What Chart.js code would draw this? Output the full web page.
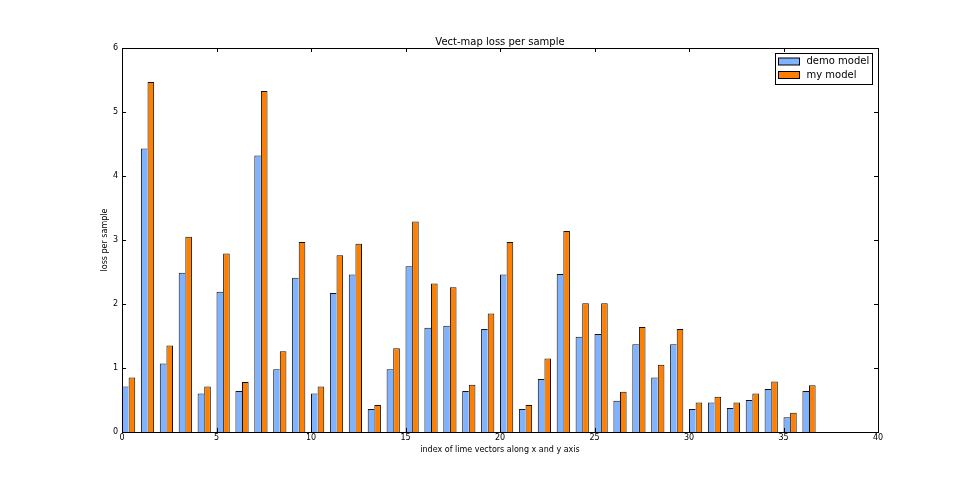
<!DOCTYPE html>
<html>
<head>
<meta charset="utf-8">
<script src="https://cdn.jsdelivr.net/npm/chart.js@4.4.1/dist/chart.umd.min.js"></script>
<style>
  html, body { margin: 0; padding: 0; background: #fff; }
  #wrap { width: 974px; height: 479px; }
</style>
</head>
<body>
<div id="wrap"><canvas id="c" width="974" height="479"></canvas></div>
<script>
// sample indices along the x axis
var INDICES = [0, 1, 2, 3, 4, 5, 6, 7, 8, 9, 10, 11, 12, 13, 14, 15, 16, 17, 18,
               19, 20, 21, 22, 23, 24, 25, 26, 27, 28, 29, 30, 31, 32, 33, 34, 35, 36];
var DEMO_LOSS = [0.71, 4.43, 1.07, 2.49, 0.60, 2.19, 0.64, 4.32, 0.98, 2.41, 0.60, 2.17, 2.46,
                 0.36, 0.98, 2.59, 1.63, 1.66, 0.64, 1.61, 2.46, 0.36, 0.83, 2.47, 1.49, 1.53,
                 0.49, 1.37, 0.85, 1.37, 0.36, 0.46, 0.375, 0.50, 0.67, 0.23, 0.64];
var MY_LOSS = [0.85, 5.47, 1.35, 3.05, 0.71, 2.79, 0.78, 5.33, 1.26, 2.97, 0.71, 2.76, 2.94,
               0.42, 1.31, 3.29, 2.32, 2.26, 0.74, 1.85, 2.97, 0.42, 1.15, 3.14, 2.01, 2.01,
               0.63, 1.64, 1.05, 1.61, 0.46, 0.55, 0.46, 0.60, 0.79, 0.30, 0.73];
var X_TICKS = [0, 5, 10, 15, 20, 25, 30, 35, 40];
var Y_TICKS = [0, 1, 2, 3, 4, 5, 6];
var SERIES = ['demo model', 'my model'];

var BAR_W = 0.35; // bar width in x units, two bars per index (edge aligned like matplotlib)
var FONT = 'DejaVu Sans, sans-serif';

function pairs(vals) {
    // group centre sits at idx + BAR_W so the first bar starts at idx
    return INDICES.map(function (idx, i) { return { x: idx + BAR_W, y: vals[i] }; });
}

// frame, inward ticks on all four sides, boxed legend
var mplFrame = {
    id: 'mplFrame',
    afterDraw: function (chart) {
        var ctx = chart.ctx, a = chart.chartArea;
        var xs = chart.scales.x, ys = chart.scales.y;
        var L = 4;
        ctx.save();
        ctx.strokeStyle = '#000';
        ctx.lineWidth = 1;
        ctx.beginPath();
        X_TICKS.forEach(function (t) {
            var px = Math.round(xs.getPixelForValue(t)) + 0.5;
            ctx.moveTo(px, a.bottom); ctx.lineTo(px, a.bottom - L);
            ctx.moveTo(px, a.top); ctx.lineTo(px, a.top + L);
        });
        Y_TICKS.forEach(function (t) {
            var py = Math.round(ys.getPixelForValue(t)) + 0.5;
            ctx.moveTo(a.left, py); ctx.lineTo(a.left + L, py);
            ctx.moveTo(a.right, py); ctx.lineTo(a.right - L, py);
        });
        ctx.stroke();
        ctx.strokeRect(Math.round(a.left) + 0.5, Math.round(a.top) + 0.5,
                       Math.round(a.right - a.left), Math.round(a.bottom - a.top));

        // legend
        ctx.font = '10px ' + FONT;
        var ds = chart.data.datasets;
        var tw = 0;
        ds.forEach(function (d) { tw = Math.max(tw, ctx.measureText(d.label).width); });
        var bw = Math.round(31 + tw + 3), bh = 31;
        var bx = Math.round(a.right - 6 - bw) + 0.5, by = Math.round(a.top + 5) + 0.5;
        ctx.fillStyle = '#fff';
        ctx.fillRect(bx, by, bw, bh);
        ctx.strokeStyle = '#000';
        ctx.strokeRect(bx, by, bw, bh);
        ds.forEach(function (d, i) {
            var cy = by + 8 + i * 13.5;
            ctx.fillStyle = d.backgroundColor;
            ctx.fillRect(bx + 3, cy - 3.5, 21, 7);
            ctx.strokeRect(bx + 3, cy - 3.5, 21, 7);
            ctx.fillStyle = '#000';
            ctx.textBaseline = 'middle';
            ctx.textAlign = 'left';
            ctx.fillText(d.label, bx + 31, cy);
        });
        ctx.restore();
    }
};

Chart.defaults.color = '#000';
Chart.defaults.font.family = FONT;

new Chart(document.getElementById('c').getContext('2d'), {
    type: 'bar',
    data: {
        datasets: [{
            label: SERIES[0],
            data: pairs(DEMO_LOSS),
            backgroundColor: '#7fb2ff',
            borderColor: '#111',
            // right edge is shared with the (taller) orange bar next to it
            borderWidth: { top: 1, left: 1, right: 0, bottom: 0 }
        }, {
            label: SERIES[1],
            data: pairs(MY_LOSS),
            backgroundColor: '#ff7f00',
            borderColor: '#111',
            borderWidth: 1
        }]
    },
    options: {
        responsive: false,
        animation: false,
        layout: { padding: { left: 96, right: 96, top: 36, bottom: 20 } },
        datasets: { bar: { categoryPercentage: 2 * BAR_W, barPercentage: 1 } },
        plugins: {
            legend: { display: false },
            tooltip: { enabled: false },
            title: {
                display: true,
                text: 'Vect-map loss per sample',
                fullSize: false,
                font: { size: 10, weight: 'normal' },
                padding: { top: 0, bottom: 0 }
            }
        },
        scales: {
            x: {
                type: 'linear',
                min: 0, max: 40,
                offset: false,
                grid: { display: false, offset: false, drawTicks: false },
                border: { display: false },
                afterBuildTicks: function (s) { s.ticks = X_TICKS.map(function (v) { return { value: v }; }); },
                ticks: { font: { size: 8 }, padding: 1, maxRotation: 0 },
                title: { display: true, text: 'index of lime vectors along x and y axis', font: { size: 8 } },
                afterFit: function (s) { s.height = 27; }
            },
            y: {
                min: 0, max: 6,
                grid: { display: false, drawTicks: false },
                border: { display: false },
                afterBuildTicks: function (s) { s.ticks = Y_TICKS.map(function (v) { return { value: v }; }); },
                ticks: { font: { size: 8 }, padding: 4 },
                title: { display: true, text: 'loss per sample', font: { size: 8 } },
                afterFit: function (s) { s.width = 26; }
            }
        }
    },
    plugins: [mplFrame]
});
</script>
</body>
</html>
